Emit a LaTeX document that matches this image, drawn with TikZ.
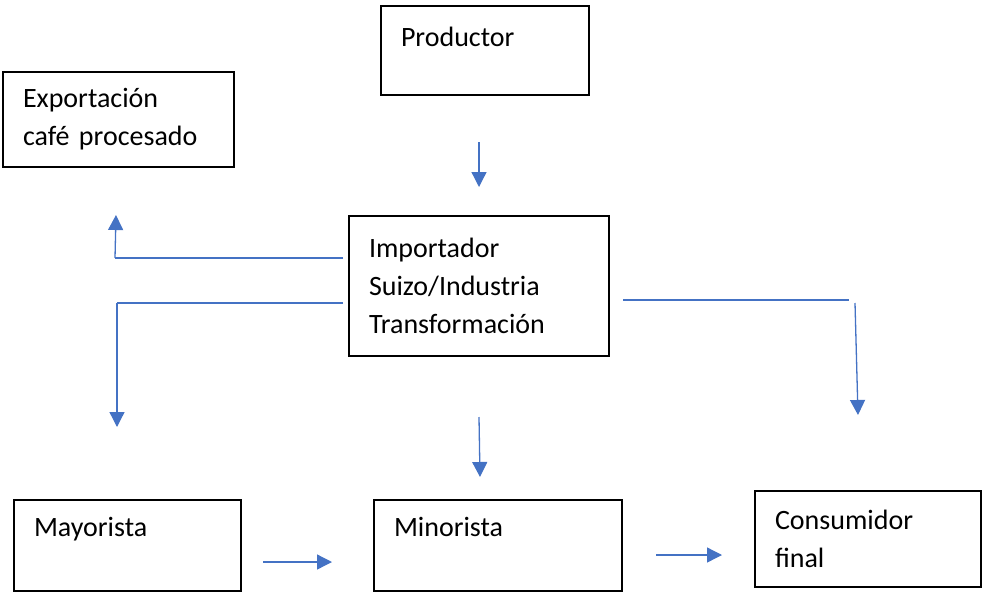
\documentclass[tikz,border=0pt]{standalone}
\usepackage{fontspec}
\setmainfont{Carlito}
\usetikzlibrary{arrows.meta}
\definecolor{azul}{HTML}{4472C4}
\frenchspacing

\tikzset{
  caja/.style={draw=black, line width=2.4pt, align=left, inner xsep=20pt, inner ysep=0pt,
    font=\fontsize{28}{38}\selectfont},
  linea/.style={draw=azul, line width=1.3pt},
  flecha/.style={linea, -{Triangle[width=15pt,length=15pt]}}
}

\begin{document}
\begin{tikzpicture}[x=1pt,y=-1pt]%[y=1cm,x=1cm]
				\useasboundingbox (0,0) rectangle (984,594);
				% cajas
				\node[caja, text width=168pt, minimum height=89pt] (prod) at (485,50.5) {Productor\\[-10pt]\mbox{}};
				\node[caja, text width=191pt, minimum height=95pt] (expo) at (118.5,119.5) {Exportaci\'on\\caf\'e\ procesado};
				\node[caja, text width=220pt, minimum height=140pt] (imp) at (479,286) {Importador\\Suizo/Industria\\Transformaci\'on};
				\node[caja, text width=187pt, minimum height=91pt] (may) at (127.5,545.5) {Mayorista\\\mbox{}};
				\node[caja, text width=208pt, minimum height=91pt] (mino) at (498,545.5) {Minorista\\\mbox{}};
				\node[caja, text width=186pt, minimum height=96pt] (cons) at (868,539) {Consumidor\\final};
				% puntos de las flechas
				\coordinate (p1) at (479,142);   \coordinate (p2) at (479,187);
				\coordinate (i1) at (343,258);   \coordinate (i2) at (115,258);   \coordinate (i3) at (116,215);
				\coordinate (j1) at (343,303);   \coordinate (j2) at (117,303);   \coordinate (j3) at (117,427);
				\coordinate (d1) at (623,300);   \coordinate (d2) at (849,300);
				\coordinate (d3) at (855,303);   \coordinate (d4) at (858,415);
				\coordinate (m1) at (479,417);   \coordinate (m2) at (480,477);
				\coordinate (a1) at (263,562);   \coordinate (a2) at (332,562);
				\coordinate (b1) at (656,555);   \coordinate (b2) at (722,555);
				% lineas sin punta
				\foreach \u/\v in {i1/i2, j1/j2, d1/d2}
				\draw[linea] (\u) -- (\v);
				% flechas
				\foreach \u/\v in {p1/p2, i2/i3, j2/j3, d3/d4, m1/m2, a1/a2, b1/b2}
				\draw[flecha] (\u) -- (\v);
         	\end{tikzpicture}
\end{document}
